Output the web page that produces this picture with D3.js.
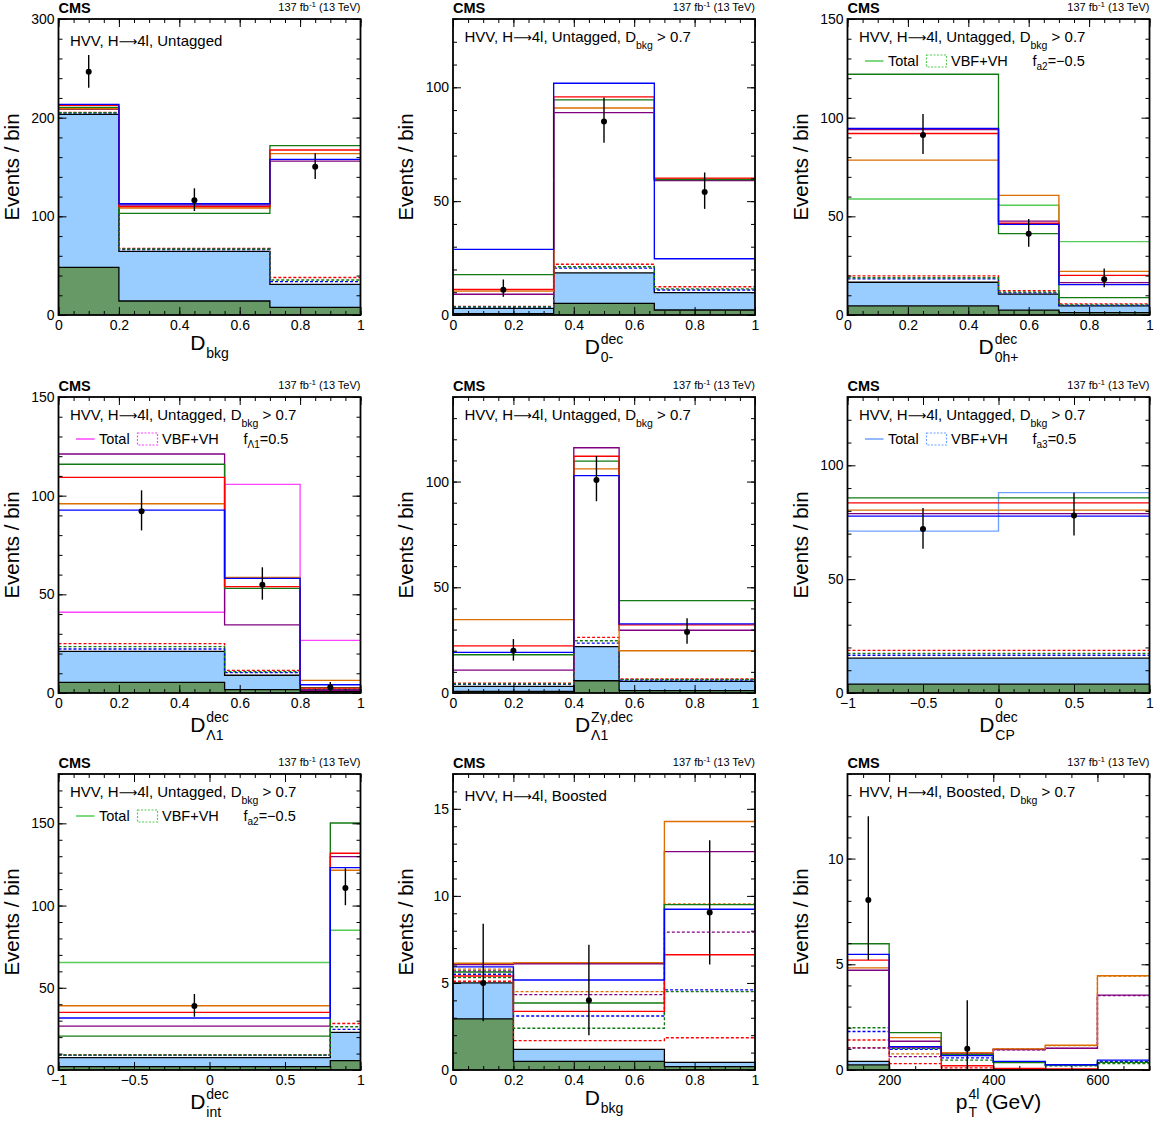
<!DOCTYPE html>
<html><head><meta charset="utf-8">
<script src="https://cdn.jsdelivr.net/npm/d3@7/dist/d3.min.js"></script>
<style>body{margin:0;background:#fff} text{font-family:"Liberation Sans",Arial,Helvetica,sans-serif;fill:#000}</style>
</head><body><svg id="c" width="1160" height="1122"></svg>
<script>
// ---------------- DATA ----------------
// series order for total / VBF+VH arrays
const SERIES = ["SM", "fa3", "fa2", "fL1", "fL1Zg"];

// Panel 1: D_bkg, untagged
const p1Edges = [0, 0.2, 0.7, 1];
const p1GG = [48.3, 14.2, 7.8];
const p1Bkg = [203.4, 64.5, 31.1];
const p1Total = [[212.5, 109.8, 167.2], [213.5, 112.8, 157.8], [210.5, 103.0, 171.6], [209.0, 108.4, 163.5], [208.5, 111.5, 156.0]];
const p1Vbf = [[205.4, 67.4, 38.0], [204.6, 66.4, 33.8], [205.0, 66.9, 35.5], null, null];
const p1DataX = [0.1, 0.45, 0.85], p1DataY = [246.6, 116.2, 150.3], p1Lo = [230.4, 105.4, 137.8], p1Hi = [263.5, 128.4, 163.9];

// Panel 2: D0-
const p2Edges = [0, 0.3333, 0.6667, 1];
const p2GG = [0.6, 5.1, 2.2];
const p2Bkg = [2.9, 18.5, 9.8];
const p2Total = [[11.2, 95.8, 60.1], [28.8, 101.8, 24.7], [17.7, 94.5, 59.5], [10.5, 90.9, 59.6], [9.1, 88.9, 59.0]];
const p2Vbf = [[3.8, 22.3, 12.4], [3.5, 20.6, 11.0], [3.6, 21.2, 11.5], null, null];
const p2DataX = [0.1667, 0.5, 0.8333], p2DataY = [11.1, 85.0, 54.0], p2Lo = [8.0, 75.6, 46.6], p2Hi = [15.6, 95.5, 62.6];

// Panel 3: D0h+
const p3Edges = [0, 0.5, 0.7, 1];
const p3GG = [4.6, 2.5, 1.2];
const p3Bkg = [16.6, 10.6, 4.6];
const p3Total = [[92.0, 46.5, 20.1], [94.6, 45.9, 15.4], [122.0, 41.2, 8.8], [78.5, 60.6, 22.1], [94.0, 47.6, 16.4]];
const p3Vbf = [[19.8, 12.3, 5.6], [18.3, 11.2, 4.9], [18.9, 11.6, 5.1], null, null];
const p3Hyp = [58.8, 55.6, 37.2];
const p3DataX = [0.25, 0.6, 0.85], p3DataY = [91.2, 41.2, 18.1], p3Lo = [81.6, 34.6, 14.0], p3Hi = [101.9, 48.6, 23.6];

// Panel 4: DΛ1
const p4Edges = [0, 0.55, 0.8, 1];
const p4GG = [5.4, 1.7, 0.8];
const p4Bkg = [21.1, 9.0, 1.4];
const p4Total = [[109.3, 53.9, 2.5], [92.7, 58.1, 4.2], [115.9, 53.0, 2.7], [95.9, 58.6, 6.4], [121.1, 34.5, 1.4]];
const p4Vbf = [[25.0, 11.5, 1.9], [22.3, 10.3, 1.6], [23.5, 10.8, 1.7], null, null];
const p4Hyp = [40.9, 105.7, 26.7];
const p4DataX = [0.275, 0.675, 0.9], p4DataY = [92.1, 54.9, 2.9], p4Lo = [82.4, 47.3, 0.8], p4Hi = [102.7, 63.7, 5.6];

// Panel 5: DΛ1 Zγ
const p5Edges = [0, 0.4, 0.55, 1];
const p5GG = [0.8, 5.8, 1.1];
const p5Bkg = [3.1, 21.9, 5.5];
const p5Total = [[22.3, 112.0, 32.2], [19.2, 102.8, 32.7], [18.1, 109.7, 43.7], [34.7, 106.0, 20.0], [10.8, 116.0, 29.7]];
const p5Vbf = [[4.6, 26.3, 6.6], [4.1, 23.6, 6.1], [4.3, 24.7, 6.3], null, null];
const p5DataX = [0.2, 0.475, 0.775], p5DataY = [20.0, 100.8, 28.9], p5Lo = [15.3, 90.7, 23.3], p5Hi = [25.5, 112.1, 35.4];

// Panel 6: DCP
const p6Edges = [-1, 0, 1];
const p6GG = [3.9, 3.9];
const p6Bkg = [15.3, 15.3];
const p6Total = [[83.5, 83.5], [77.7, 77.7], [85.7, 85.7], [80.3, 80.3], [78.8, 78.8]];
const p6Vbf = [[18.7, 18.7], [16.6, 16.6], [17.4, 17.4], null, null];
const p6Hyp = [71.1, 88.0];
const p6DataX = [-0.5, 0.5], p6DataY = [72.0, 78.0], p6Lo = [63.4, 69.2], p6Hi = [81.3, 87.9];

// Panel 7: Dint
const p7Edges = [-1, 0.8, 1];
const p7GG = [2.0, 5.7];
const p7Bkg = [7.5, 22.9];
const p7Total = [[35.0, 131.8], [31.6, 123.1], [20.6, 150.2], [39.1, 121.5], [26.7, 129.8]];
const p7Vbf = [[9.3, 28.3], [8.9, 24.7], [9.1, 26.3], null, null];
const p7Hyp = [65.4, 85.0];
const p7DataX = [-0.1, 0.9], p7DataY = [38.9, 110.7], p7Lo = [32.4, 100.2], p7Hi = [46.2, 122.7];

// Panel 8: D_bkg, boosted
const p8Edges = [0, 0.2, 0.7, 1];
const p8GG = [2.94, 0.5, 0.19];
const p8Bkg = [5.0, 1.19, 0.44];
const p8Total = [[5.4, 3.37, 6.62], [5.92, 5.17, 9.23], [5.63, 3.85, 9.5], [6.13, 6.17, 14.27], [6.05, 6.1, 12.54]];
const p8Vbf = [[5.1, 1.69, 1.85], [5.5, 3.1, 4.6], [5.31, 2.4, 4.5], [5.79, 4.5, 9.54], [5.69, 4.33, 7.92]];
const p8DataX = [0.1, 0.45, 0.85], p8DataY = [5.0, 4.0, 9.04], p8Lo = [2.8, 2.0, 6.06], p8Hi = [8.4, 7.2, 13.2];

// Panel 9: pT4l, boosted
const p9Edges = [120, 200, 300, 400, 500, 600, 700];
const p9GG = [0.24, 0, 0, 0, 0, 0];
const p9Bkg = [0.41, 0.01, 0.01, 0.01, 0.01, 0.01];
const p9Total = [[5.2, 1.08, 0.2, 0.08, 0.05, 0.02], [5.47, 1.1, 0.68, 0.41, 0.25, 0.47], [5.97, 1.77, 0.72, 0.35, 0.23, 0.36], [4.83, 1.53, 0.82, 1.0, 1.17, 4.46], [4.72, 1.36, 0.76, 0.97, 1.03, 3.54]];
const p9Vbf = [[1.42, 0.3, 0.1, 0.03, 0.02, 0.01], [1.82, 0.98, 0.57, 0.38, 0.22, 0.4], [2.0, 1.03, 0.47, 0.36, 0.2, 0.3], [1.06, 0.76, 0.8, 1.0, 1.15, 4.44], [1.04, 0.63, 0.7, 0.95, 1.02, 3.52]];
const p9DataX = [160, 350], p9DataY = [8.04, 1.0], p9Lo = [5.2, 0], p9Hi = [12.0, 3.3];

// axis ranges & ticks
const yMax = [300, 130, 150, 150, 140, 130, 180, 17, 14];
const yMajorStep = [100, 50, 50, 50, 50, 50, 50, 5, 5];
const yMinorStep = [20, 10, 10, 10, 10, 10, 10, 1, 1];
const xMajorTicks = [[0,0.2,0.4,0.6,0.8,1],[0,0.2,0.4,0.6,0.8,1],[0,0.2,0.4,0.6,0.8,1],[0,0.2,0.4,0.6,0.8,1],[0,0.2,0.4,0.6,0.8,1],[-1,-0.5,0,0.5,1],[-1,-0.5,0,0.5,1],[0,0.2,0.4,0.6,0.8,1],[200,400,600]];
const xMinorStep = [0.05,0.05,0.05,0.05,0.05,0.1,0.1,0.05,50];

// texts
const titles = [
  ["Untagged"],
  ["Untagged, D", "bkg", " > 0.7"],
  ["Untagged, D", "bkg", " > 0.7"],
  ["Untagged, D", "bkg", " > 0.7"],
  ["Untagged, D", "bkg", " > 0.7"],
  ["Untagged, D", "bkg", " > 0.7"],
  ["Untagged, D", "bkg", " > 0.7"],
  ["Boosted"],
  ["Boosted, D", "bkg", " > 0.7"]
];
const xLabels = [
  {b:"D", sub:"bkg"}, {b:"D", sup:"dec", sub:"0-"}, {b:"D", sup:"dec", sub:"0h+"},
  {b:"D", sup:"dec", sub:"Λ1"}, {b:"D", sup:"Zγ,dec", sub:"Λ1"}, {b:"D", sup:"dec", sub:"CP"},
  {b:"D", sup:"dec", sub:"int"}, {b:"D", sub:"bkg"}, {b:"p", sup:"4l", sub:"T", after:"(GeV)"}
];
const legendF = [null, null, ["a2", "=−0.5"], ["Λ1", "=0.5"], null, ["a3", "=0.5"], ["a2", "=−0.5"], null, null];

// ---------------- STYLE ----------------
const SERIES_COLORS = ["#ff0000", "#0000ff", "#137a13", "#dc6e00", "#800080"];
const HYP_COLORS = [null, null, "#55cc55", "#ff44ff", null, "#6fa2ff", "#55cc55", null, null];
const GG_FILL = "#669966", BKG_FILL = "#99ccff";
const COLS = [58.5, 453, 847.5], ROWS = [19, 397, 774];
const W = 302, H = 296;

const panels = [
  {edges:p1Edges, gg:p1GG, bkg:p1Bkg, tot:p1Total, vbf:p1Vbf, hyp:null, dx:p1DataX, dy:p1DataY, lo:p1Lo, hi:p1Hi},
  {edges:p2Edges, gg:p2GG, bkg:p2Bkg, tot:p2Total, vbf:p2Vbf, hyp:null, dx:p2DataX, dy:p2DataY, lo:p2Lo, hi:p2Hi},
  {edges:p3Edges, gg:p3GG, bkg:p3Bkg, tot:p3Total, vbf:p3Vbf, hyp:p3Hyp, dx:p3DataX, dy:p3DataY, lo:p3Lo, hi:p3Hi},
  {edges:p4Edges, gg:p4GG, bkg:p4Bkg, tot:p4Total, vbf:p4Vbf, hyp:p4Hyp, dx:p4DataX, dy:p4DataY, lo:p4Lo, hi:p4Hi},
  {edges:p5Edges, gg:p5GG, bkg:p5Bkg, tot:p5Total, vbf:p5Vbf, hyp:null, dx:p5DataX, dy:p5DataY, lo:p5Lo, hi:p5Hi},
  {edges:p6Edges, gg:p6GG, bkg:p6Bkg, tot:p6Total, vbf:p6Vbf, hyp:p6Hyp, dx:p6DataX, dy:p6DataY, lo:p6Lo, hi:p6Hi},
  {edges:p7Edges, gg:p7GG, bkg:p7Bkg, tot:p7Total, vbf:p7Vbf, hyp:p7Hyp, dx:p7DataX, dy:p7DataY, lo:p7Lo, hi:p7Hi},
  {edges:p8Edges, gg:p8GG, bkg:p8Bkg, tot:p8Total, vbf:p8Vbf, hyp:null, dx:p8DataX, dy:p8DataY, lo:p8Lo, hi:p8Hi},
  {edges:p9Edges, gg:p9GG, bkg:p9Bkg, tot:p9Total, vbf:p9Vbf, hyp:null, dx:p9DataX, dy:p9DataY, lo:p9Lo, hi:p9Hi}
];

const svg = d3.select("#c");
const fmt = d3.format("~g");
const LW = 1.35;

function rng(a, b, s) { const out = []; for (let v = a; v <= b + 1e-9; v += s) out.push(+v.toFixed(6)); return out; }

panels.forEach((p, i) => {
  const pl = COLS[i % 3], pt = ROWS[Math.floor(i / 3)];
  const g = svg.append("g").attr("transform", `translate(${pl},${pt})`);
  const e = p.edges;
  const x = d3.scaleLinear().domain([e[0], e[e.length - 1]]).range([0, W]);
  const y = d3.scaleLinear().domain([0, yMax[i]]).range([H, 0]);
  const pts = vals => { const a = vals.map((v, k) => [e[k], v]); a.push([e[vals.length], vals[vals.length - 1]]); return a; };
  const line = d3.line().x(d => x(d[0])).y(d => y(d[1])).curve(d3.curveStepAfter);
  const area = d3.area().x(d => x(d[0])).y0(H).y1(d => y(d[1])).curve(d3.curveStepAfter);

  const clipId = "clip" + i;
  g.append("clipPath").attr("id", clipId).append("rect").attr("width", W).attr("height", H);
  const pg = g.append("g").attr("clip-path", `url(#${clipId})`);

  // stacked backgrounds
  pg.append("path").attr("d", area(pts(p.bkg))).attr("fill", BKG_FILL);
  pg.append("path").attr("d", line(pts(p.bkg))).attr("fill", "none").attr("stroke", "#000").attr("stroke-width", 1.3);
  pg.append("path").attr("d", area(pts(p.gg))).attr("fill", GG_FILL);
  pg.append("path").attr("d", line(pts(p.gg))).attr("fill", "none").attr("stroke", "#000").attr("stroke-width", 1.3);

  // VBF+VH dashed
  p.vbf.forEach((v, k) => {
    if (!v) return;
    pg.append("path").attr("d", line(pts(v))).attr("fill", "none")
      .attr("stroke", SERIES_COLORS[k]).attr("stroke-width", LW).attr("stroke-dasharray", "3,2");
  });
  // totals
  if (p.hyp) pg.append("path").attr("d", line(pts(p.hyp))).attr("fill", "none").attr("stroke", HYP_COLORS[i]).attr("stroke-width", LW);
  [4, 3, 2, 0, 1].forEach(k => {
    pg.append("path").attr("d", line(pts(p.tot[k]))).attr("fill", "none")
      .attr("stroke", SERIES_COLORS[k]).attr("stroke-width", LW);
  });

  // data
  p.dx.forEach((xv, k) => {
    g.append("line").attr("x1", x(xv)).attr("x2", x(xv)).attr("y1", y(p.lo[k])).attr("y2", y(p.hi[k]))
      .attr("stroke", "#000").attr("stroke-width", 1.4);
    g.append("circle").attr("cx", x(xv)).attr("cy", y(p.dy[k])).attr("r", 3).attr("fill", "#000");
  });

  // axes
  const yMaj = rng(0, yMax[i], yMajorStep[i]);
  const yMin = rng(0, yMax[i], yMinorStep[i]);
  const xMaj = xMajorTicks[i];
  const xMin = rng(Math.ceil(e[0] / xMinorStep[i]) * xMinorStep[i], e[e.length - 1], xMinorStep[i]);
  const styleAxis = sel => { sel.select(".domain").remove(); sel.selectAll("line").attr("stroke", "#000").attr("stroke-width", 1); };
  g.append("g").attr("transform", `translate(0,${H})`).call(d3.axisBottom(x).tickValues(xMin).tickSizeInner(-4).tickSizeOuter(0).tickFormat("")).call(styleAxis);
  g.append("g").attr("transform", `translate(0,${H})`).call(d3.axisBottom(x).tickValues(xMaj).tickSizeInner(-8).tickSizeOuter(0).tickPadding(5).tickFormat(fmt)).call(styleAxis)
    .selectAll("text").attr("font-size", 14).attr("font-family", '"Liberation Sans",Arial,sans-serif').attr("fill", "#000");
  g.append("g").call(d3.axisTop(x).tickValues(xMin).tickSizeInner(-4).tickSizeOuter(0).tickFormat("")).call(styleAxis);
  g.append("g").call(d3.axisTop(x).tickValues(xMaj).tickSizeInner(-8).tickSizeOuter(0).tickFormat("")).call(styleAxis);
  g.append("g").call(d3.axisLeft(y).tickValues(yMin).tickSizeInner(-4).tickSizeOuter(0).tickFormat("")).call(styleAxis);
  g.append("g").call(d3.axisLeft(y).tickValues(yMaj).tickSizeInner(-8).tickSizeOuter(0).tickPadding(4).tickFormat(fmt)).call(styleAxis)
    .selectAll("text").attr("font-size", 14).attr("font-family", '"Liberation Sans",Arial,sans-serif').attr("fill", "#000");
  g.append("g").attr("transform", `translate(${W},0)`).call(d3.axisRight(y).tickValues(yMin).tickSizeInner(-4).tickSizeOuter(0).tickFormat("")).call(styleAxis);
  g.append("g").attr("transform", `translate(${W},0)`).call(d3.axisRight(y).tickValues(yMaj).tickSizeInner(-8).tickSizeOuter(0).tickFormat("")).call(styleAxis);

  // frame
  g.append("rect").attr("width", W).attr("height", H).attr("fill", "none").attr("stroke", "#000").attr("stroke-width", 1.8);

  // CMS / lumi
  g.append("text").attr("x", 0).attr("y", -6).attr("font-size", 14.5).attr("font-weight", "bold").text("CMS");
  const lt = g.append("text").attr("x", W).attr("y", -8).attr("font-size", 11).attr("text-anchor", "end");
  lt.append("tspan").text("137 fb");
  lt.append("tspan").attr("font-size", 8).attr("dy", -4).text("-1");
  lt.append("tspan").attr("dy", 4).text(" (13 TeV)");

  // title
  const tt = titles[i];
  const tx = g.append("text").attr("x", 11.5).attr("y", tt.length > 1 ? 22.5 : 27).attr("font-size", 15);
  tx.append("tspan").text("HVV, H");
  tx.append("tspan").attr("font-family", '"DejaVu Sans",sans-serif').attr("font-size", 13).text("⟶");
  tx.append("tspan").text("4l, " + tt[0]);
  if (tt.length > 1) {
    tx.append("tspan").attr("font-size", 10.5).attr("dy", 7).text(tt[1]);
    tx.append("tspan").attr("dy", -7).text(tt[2]);
  }

  // legend
  if (legendF[i]) {
    const c = HYP_COLORS[i];
    g.append("line").attr("x1", 17.5).attr("x2", 36).attr("y1", 42).attr("y2", 42).attr("stroke", c).attr("stroke-width", 1.5);
    g.append("text").attr("x", 40.5).attr("y", 47).attr("font-size", 14.5).text("Total");
    g.append("rect").attr("x", 79).attr("y", 36).attr("width", 20).attr("height", 12).attr("fill", "none")
      .attr("stroke", c).attr("stroke-width", 1.2).attr("stroke-dasharray", "2,1.5");
    g.append("text").attr("x", 103.5).attr("y", 47).attr("font-size", 14.5).text("VBF+VH");
    const ft = g.append("text").attr("x", 185).attr("y", 47).attr("font-size", 14.5);
    ft.append("tspan").text("f");
    ft.append("tspan").attr("font-size", 10).attr("dy", 4).text(legendF[i][0]);
    ft.append("tspan").attr("dy", -4).text(legendF[i][1]);
  }

  // y label
  g.append("text").attr("transform", `translate(${-40},${H / 2}) rotate(-90)`).attr("text-anchor", "middle")
    .attr("font-size", 20.5).text("Events / bin");

  // x label
  const lab = xLabels[i];
  const base = H + (lab.sup ? 39 : 35);
  const lg = g.append("g");
  const bt = lg.append("text").attr("font-size", 21).text(lab.b);
  const bw = bt.node().getComputedTextLength();
  let extra = 0;
  if (lab.sup) { const s = lg.append("text").attr("x", bw + 1).attr("y", -10).attr("font-size", 14).text(lab.sup); extra = Math.max(extra, s.node().getComputedTextLength()); }
  if (lab.sub) { const s = lg.append("text").attr("x", bw + 1).attr("y", 8).attr("font-size", 14).text(lab.sub); extra = Math.max(extra, s.node().getComputedTextLength()); }
  let total = bw + 1 + extra;
  if (lab.after) { const a = lg.append("text").attr("x", total + 6).attr("font-size", 21).text(lab.after); total += 6 + a.node().getComputedTextLength(); }
  lg.attr("transform", `translate(${W / 2 - total / 2},${base})`);
});
</script></body></html>
